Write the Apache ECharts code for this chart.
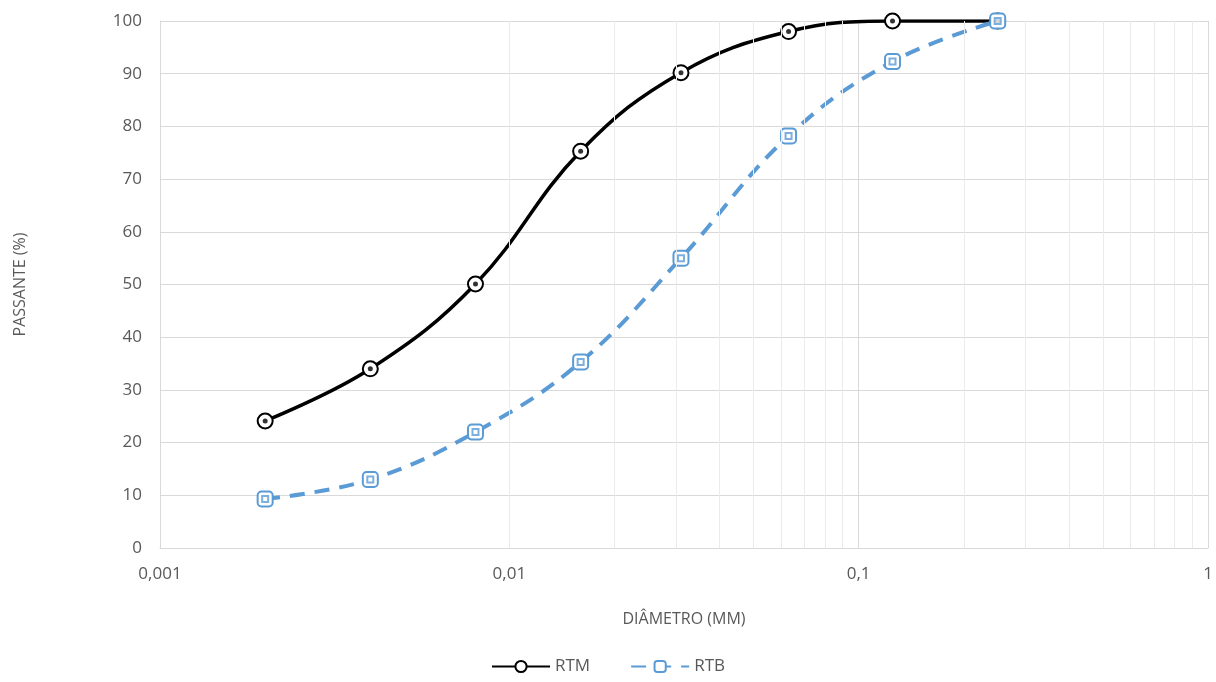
<!DOCTYPE html>
<html>
<head>
<meta charset="utf-8">
<script src="https://cdn.jsdelivr.net/npm/echarts@6/dist/echarts.min.js"></script>
<style>
  html, body { margin: 0; padding: 0; background: #ffffff; }
  #chart { width: 1216px; height: 682px; }
</style>
</head>
<body>
<div id="chart"></div>
<script>
// diametros (mm) e % passante
var diametros = [0.002, 0.004, 0.008, 0.016, 0.031, 0.063, 0.125, 0.25];
var rtm = [24.1, 34, 50.1, 75.3, 90.2, 98, 100, 100];
var rtb = [9.3, 13, 22, 35.3, 55, 78.2, 92.3, 100];

// linhas de grade secundarias (2..9 em cada decada)
var minorLines = [];
[0.001, 0.01, 0.1].forEach(function (d) {
    for (var k = 2; k <= 9; k++) minorLines.push({ xAxis: d * k });
});

function pares(ys) {
    return diametros.map(function (x, i) { return [x, ys[i]]; });
}

var chart = echarts.init(document.getElementById('chart'));
var font = '"Open Sans", "Liberation Sans", sans-serif';

var option = {
    backgroundColor: '#ffffff',
    animation: false,
    textStyle: { fontFamily: font },
    grid: { left: 160, right: 8, top: 21, bottom: 134 },
    legend: {
        bottom: 2,
        left: 'center',
        itemWidth: 58,
        itemHeight: 14,
        itemGap: 40,
        data: ['RTM', 'RTB'],
        textStyle: { color: '#595959', fontSize: 17, fontFamily: font }
    },
    xAxis: {
        type: 'log',
        logBase: 10,
        min: 0.001,
        max: 1,
        name: 'DIÂMETRO (MM)',
        nameLocation: 'middle',
        nameGap: 63,
        nameTextStyle: { color: '#595959', fontSize: 16 },
        axisLine: { show: true, lineStyle: { color: '#d9d9d9' } },
        axisTick: { show: false },
        axisLabel: {
            color: '#595959', fontSize: 17, margin: 18,
            formatter: function (v) { return String(+v.toPrecision(3)).replace('.', ','); }
        },
        splitLine: { show: true, lineStyle: { color: '#d9d9d9' } }
    },
    yAxis: {
        type: 'value',
        min: 0,
        max: 100,
        interval: 10,
        name: 'PASSANTE (%)',
        nameLocation: 'middle',
        nameGap: 132,
        nameTextStyle: { color: '#595959', fontSize: 16 },
        axisLine: { show: true, lineStyle: { color: '#d9d9d9' } },
        axisTick: { show: false },
        axisLabel: { color: '#595959', fontSize: 17, margin: 18 },
        splitLine: { show: true, lineStyle: { color: '#d9d9d9' } }
    },
    series: [
        {
            name: 'grade',
            type: 'line',
            data: [],
            silent: true,
            markLine: {
                silent: true,
                symbol: 'none',
                label: { show: false },
                lineStyle: { color: '#ebebeb', type: 'solid', width: 1 },
                data: minorLines
            }
        },
        {
            name: 'RTM',
            type: 'line',
            smooth: 0.4,
            data: pares(rtm),
            symbol: 'emptyCircle',
            symbolSize: 15,
            showSymbol: true,
            lineStyle: { color: '#000000', width: 3.5 },
            itemStyle: { color: '#000000', borderColor: '#000000', borderWidth: 2.5 },
            z: 3
        },
        {
            name: 'RTM-centro',
            type: 'scatter',
            data: pares(rtm),
            symbol: 'circle',
            symbolSize: 5,
            itemStyle: { color: '#000000' },
            silent: true,
            z: 4
        },
        {
            name: 'RTB',
            type: 'line',
            smooth: 0.4,
            data: pares(rtb),
            symbol: 'emptyRoundRect',
            symbolSize: 15,
            showSymbol: true,
            lineStyle: { color: '#5b9bd5', width: 4, type: [15, 10] },
            itemStyle: { color: '#5b9bd5', borderColor: '#5b9bd5', borderWidth: 2.5 },
            z: 3
        },
        {
            name: 'RTB-centro',
            type: 'scatter',
            data: pares(rtb),
            symbol: 'emptyRect',
            symbolSize: 6,
            itemStyle: { color: '#5b9bd5', borderColor: '#5b9bd5', borderWidth: 1.5 },
            silent: true,
            z: 4
        }
    ]
};

chart.setOption(option);
</script>
</body>
</html>
